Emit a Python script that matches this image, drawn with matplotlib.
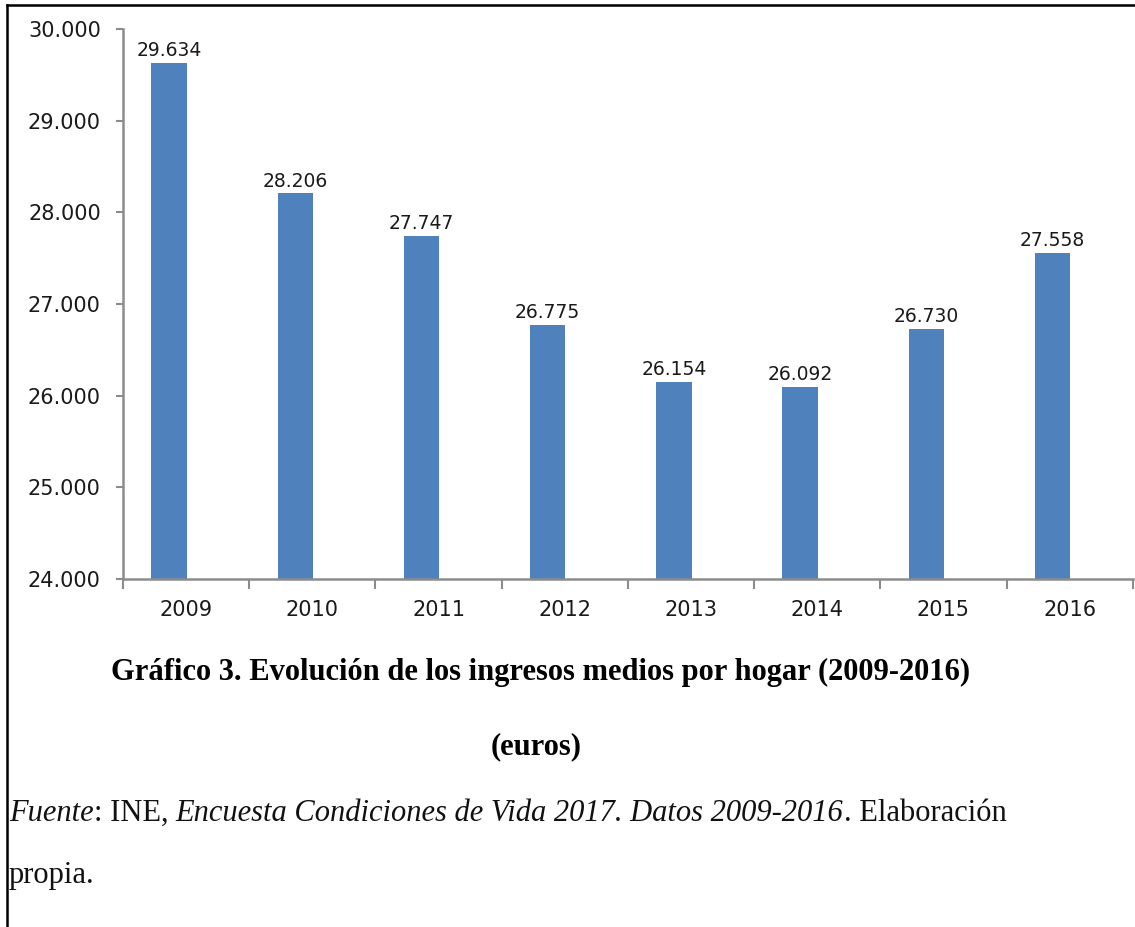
import numpy as np
import matplotlib
matplotlib.use('Agg')
import matplotlib.pyplot as plt
from matplotlib.lines import Line2D
from matplotlib.ticker import FuncFormatter

years = ['2009', '2010', '2011', '2012', '2013', '2014', '2015', '2016']
ingresos = [29634, 28206, 27747, 26775, 26154, 26092, 26730, 27558]

titulo = 'Gráfico 3. Evolución de los ingresos medios por hogar (2009-2016)'
subtitulo = '(euros)'
fuente = [('Fuente', 'italic'), (': INE, ', 'normal'),
          ('Encuesta Condiciones de Vida 2017. Datos 2009-2016', 'italic'),
          ('. Elaboración', 'normal')]
fuente_2 = 'propia.'


def miles(v):
    return '{:,.0f}'.format(v).replace(',', '.')


def main():
    fig = plt.figure(figsize=(11.35, 9.27), dpi=100)
    ax = fig.add_axes([0.1084, 0.3754, 0.8896, 0.5933])

    x = np.arange(len(years))
    bars = ax.bar(x - 0.135, ingresos, width=0.28, color='#4F81BD', zorder=2)
    for b, v in zip(bars, ingresos):
        ax.annotate(miles(v), (b.get_x() + b.get_width() / 2, v),
                    xytext=(0, 2), textcoords='offset points',
                    ha='center', va='bottom', fontsize=13.5, color='#1a1a1a')

    ax.set_ylim(24000, 30000)
    ax.set_yticks(np.arange(24000, 30001, 1000))
    ax.yaxis.set_major_formatter(FuncFormatter(lambda v, p: miles(v)))
    ax.set_xlim(-0.5, len(years) - 0.5)
    ax.set_xticks(x)
    ax.set_xticklabels(years)
    ax.set_xticks(np.arange(-0.5, len(years)), minor=True)

    for s in ['top', 'right']:
        ax.spines[s].set_visible(False)
    for s in ['left', 'bottom']:
        ax.spines[s].set_color('#8c8c8c')
        ax.spines[s].set_linewidth(1.8)
    ax.tick_params(axis='y', length=5, width=1.5, color='#8c8c8c',
                   labelsize=15, labelcolor='#1a1a1a', pad=11)
    ax.tick_params(axis='x', which='major', length=0, labelsize=15,
                   labelcolor='#1a1a1a', pad=15)
    ax.tick_params(axis='x', which='minor', length=7, width=1.5,
                   color='#8c8c8c')

    # marco de la página
    fig.add_artist(Line2D([0.006, 1.0], [0.9945, 0.9945], color='black', lw=1.8))
    fig.add_artist(Line2D([0.006, 0.006], [0.0, 0.9945], color='black', lw=1.8))

    serif = 'Liberation Serif'
    fig.text(0.476, 1 - 672 / 927, titulo, ha='center', va='center',
             fontsize=22, fontweight='bold', family=serif)
    fig.text(0.472, 1 - 747 / 927, subtitulo, ha='center', va='center',
             fontsize=22, fontweight='bold', family=serif)

    # linea de fuente con tramos en cursiva
    fig.canvas.draw()
    r = fig.canvas.get_renderer()
    xpos = 9 / 1135
    ypos = 1 - 821 / 927
    for txt, st in fuente:
        t = fig.text(xpos, ypos, txt, ha='left', va='baseline',
                     fontsize=22, style=st, family=serif, color='#111111')
        bb = t.get_window_extent(renderer=r)
        xpos = bb.x1 / fig.bbox.width
    fig.text(9 / 1135, 1 - 883 / 927, fuente_2, ha='left', va='baseline',
             fontsize=22, family=serif, color='#111111')

    fig.savefig('out.png', dpi=100)


if __name__ == '__main__':
    main()
